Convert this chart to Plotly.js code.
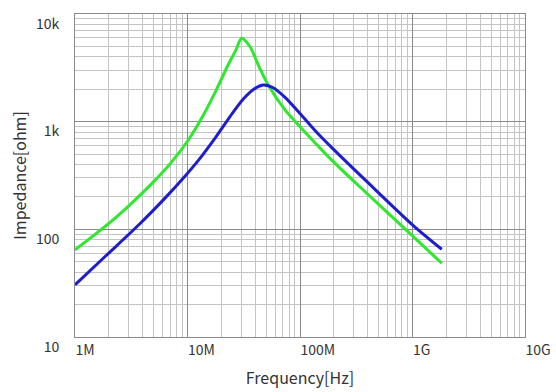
<!DOCTYPE html>
<html>
<head>
<meta charset="utf-8">
<script src="https://cdn.plot.ly/plotly-3.0.1.min.js"></script>
<style>html,body{margin:0;padding:0;background:#fff}#chart{width:556px;height:392px}</style>
</head>
<body>
<div id="chart"></div>
<script>
// Frequency in MHz, impedance in ohm
const freqGreenMHz = [1, 2.0, 3.16, 5.01, 7.08, 10, 13.18, 17.78, 22.9, 26.9, 30.3, 35.97, 42.6, 52.2, 73.6, 100, 197.7, 391.7, 1016, 1820];
const zGreen       = [64.4, 113.5, 173.4, 277.3, 412, 658, 1052, 1914, 3342, 4613, 5957, 4966, 3357, 2193, 1285, 899, 425.6, 216.3, 85.5, 48.4];

const freqBlueMHz  = [1, 1.862, 3.715, 6.31, 8.91, 12.59, 17.78, 25.12, 31.62, 38.02, 47.2, 57.9, 73.6, 100, 141.3, 197.7, 391.7, 1016, 1820];
const zBlue        = [30.5, 56.2, 110.9, 195, 288.4, 441.6, 716, 1202, 1641, 1972, 2193, 2065, 1679, 1189, 794, 556, 278.6, 108.4, 65.3];

const xTickVals = [1e6, 1e7, 1e8, 1e9, 1e10];
const xTickText = ['1M', '10M', '100M', '1G', '10G'];
const yTickVals = [10, 100, 1000, 10000];
const yTickText = ['10', '100', '1k', '10k'];

function minorVals(lo, hi) {
  const v = [];
  for (let d = lo; d < hi; d *= 10) for (let k = 2; k <= 9; k++) v.push(d * k);
  return v;
}

const font = 'Noto Sans CJK JP, Noto Sans, sans-serif';
const traces = [
  {x: freqGreenMHz.map(f => f * 1e6), y: zGreen, mode: 'lines', type: 'scatter',
   line: {color: '#2ee82e', width: 3, shape: 'spline', smoothing: 0.8}, hoverinfo: 'skip'},
  {x: freqBlueMHz.map(f => f * 1e6), y: zBlue, mode: 'lines', type: 'scatter',
   line: {color: '#1e1ecc', width: 3, shape: 'spline', smoothing: 0.8}, hoverinfo: 'skip'}
];

const layout = {
  width: 556, height: 392,
  margin: {l: 75, r: 31, t: 14, b: 55},
  paper_bgcolor: '#fff', plot_bgcolor: '#fff',
  showlegend: false,
  font: {family: font, color: '#333', size: 13},
  xaxis: {
    type: 'log', range: [6, 10],
    tickmode: 'array', tickvals: xTickVals, ticktext: xTickText,
    ticklabelposition: 'outside right',
    showgrid: true, gridcolor: '#8a8a8a', gridwidth: 1,
    minor: {tickmode: 'array', tickvals: minorVals(1e6, 1e10), showgrid: true, gridcolor: '#c4c4c4', gridwidth: 1},
    showline: true, linecolor: '#8a8a8a', linewidth: 1, mirror: true,
    ticks: '', zeroline: false,
    tickfont: {size: 14, color: '#333'},
    title: {text: 'Frequency[Hz]', font: {size: 16, color: '#333'}, standoff: 15}
  },
  yaxis: {
    type: 'log', range: [1, 4],
    tickmode: 'array', tickvals: yTickVals, ticktext: yTickText,
    ticklabelposition: 'outside bottom',
    showgrid: true, gridcolor: '#8a8a8a', gridwidth: 1,
    minor: {tickmode: 'array', tickvals: minorVals(10, 10000), showgrid: true, gridcolor: '#c4c4c4', gridwidth: 1},
    showline: true, linecolor: '#8a8a8a', linewidth: 1, mirror: true,
    ticks: '', zeroline: false,
    ticklabelstandoff: 12,
    tickfont: {size: 14, color: '#333'},
    title: {text: 'Impedance[ohm]', font: {size: 16, color: '#333'}, standoff: 5}
  }
};

Plotly.newPlot('chart', traces, layout, {staticPlot: true, displayModeBar: false});
</script>
</body>
</html>
